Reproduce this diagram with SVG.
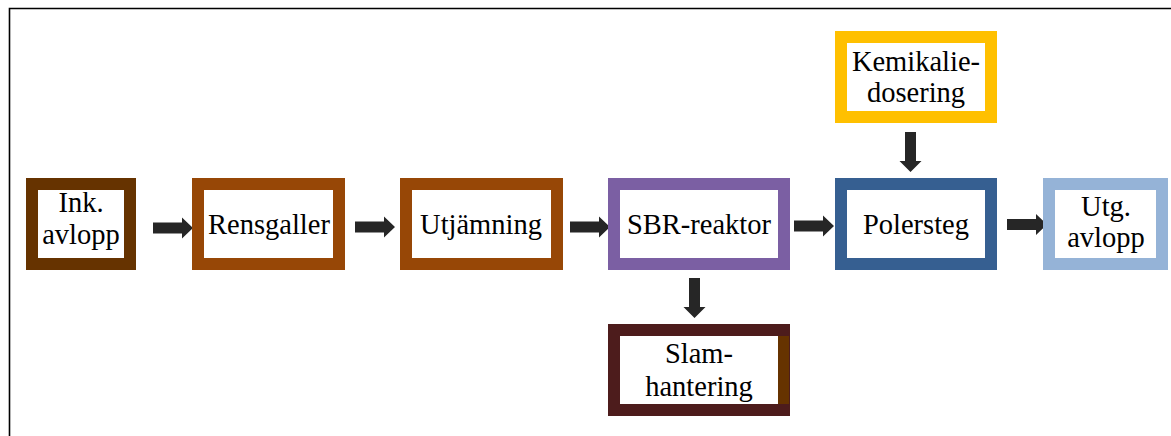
<svg xmlns="http://www.w3.org/2000/svg" width="1171" height="436" viewBox="0 0 1171 436">
<style>
.box{fill:#ffffff;stroke-width:12}
.t{font-family:"Liberation Serif","Times New Roman",serif;font-size:28.5px;fill:#000;text-anchor:middle}
.arr{fill:#262626}
</style>
<rect width="1171" height="436" fill="#ffffff"/>
<path d="M9.5,436 V8.5 H1171" fill="none" stroke="#000" stroke-width="1.6"/>
<g id="connectors">
<polygon class="arr" points="153,222.5 182,222.5 182,217.5 193,228 182,238.5 182,233.5 153,233.5"/>
<polygon class="arr" points="355,221.5 384,221.5 384,216.5 395,227 384,237.5 384,232.5 355,232.5"/>
<polygon class="arr" points="570,221.5 599,221.5 599,216.5 610,227 599,237.5 599,232.5 570,232.5"/>
<polygon class="arr" points="794,220.5 823,220.5 823,215.5 834,226 823,236.5 823,231.5 794,231.5"/>
<polygon class="arr" points="1007,219 1036,219 1036,214 1047,224.5 1036,235 1036,230 1007,230"/>
<polygon class="arr" points="905,132 916,132 916,161 921.5,161 910.5,172 899.5,161 905,161"/>
<polygon class="arr" points="689,278 700,278 700,307 705.5,307 694.5,318 683.5,307 689,307"/>
</g>
<g id="ink">
<rect class="box" x="32" y="184" width="98" height="80" stroke="#663300"/>
<text class="t" x="81" y="212">Ink.</text>
<text class="t" x="81" y="244">avlopp</text>
</g>
<g id="rensgaller">
<rect class="box" x="198" y="184" width="141" height="80" stroke="#974706"/>
<text class="t" x="269" y="234">Rensgaller</text>
</g>
<g id="utjamning">
<rect class="box" x="406" y="184" width="151" height="80" stroke="#974706"/>
<text class="t" x="481" y="234">Utjämning</text>
</g>
<g id="sbr">
<rect class="box" x="614" y="184" width="170" height="80" stroke="#7B5FA3"/>
<text class="t" x="699" y="234">SBR-reaktor</text>
</g>
<g id="polersteg">
<rect class="box" x="841" y="184" width="150" height="80" stroke="#365F91"/>
<text class="t" x="916" y="234">Polersteg</text>
</g>
<g id="utg">
<rect class="box" x="1049" y="184" width="113" height="80" stroke="#95B3D7"/>
<text class="t" x="1106" y="216">Utg.</text>
<text class="t" x="1106" y="247">avlopp</text>
</g>
<g id="kemikalie">
<rect class="box" x="841" y="37" width="150" height="80" stroke="#FFC000"/>
<text class="t" x="916" y="71">Kemikalie-</text>
<text class="t" x="916" y="102">dosering</text>
</g>
<g id="slam">
<rect class="box" x="614" y="330" width="170" height="80" stroke="#4D1C1C"/>
<rect x="778" y="336" width="11" height="68" fill="#663300"/>
<text class="t" x="699" y="363">Slam-</text>
<text class="t" x="699" y="396">hantering</text>
</g>
</svg>
